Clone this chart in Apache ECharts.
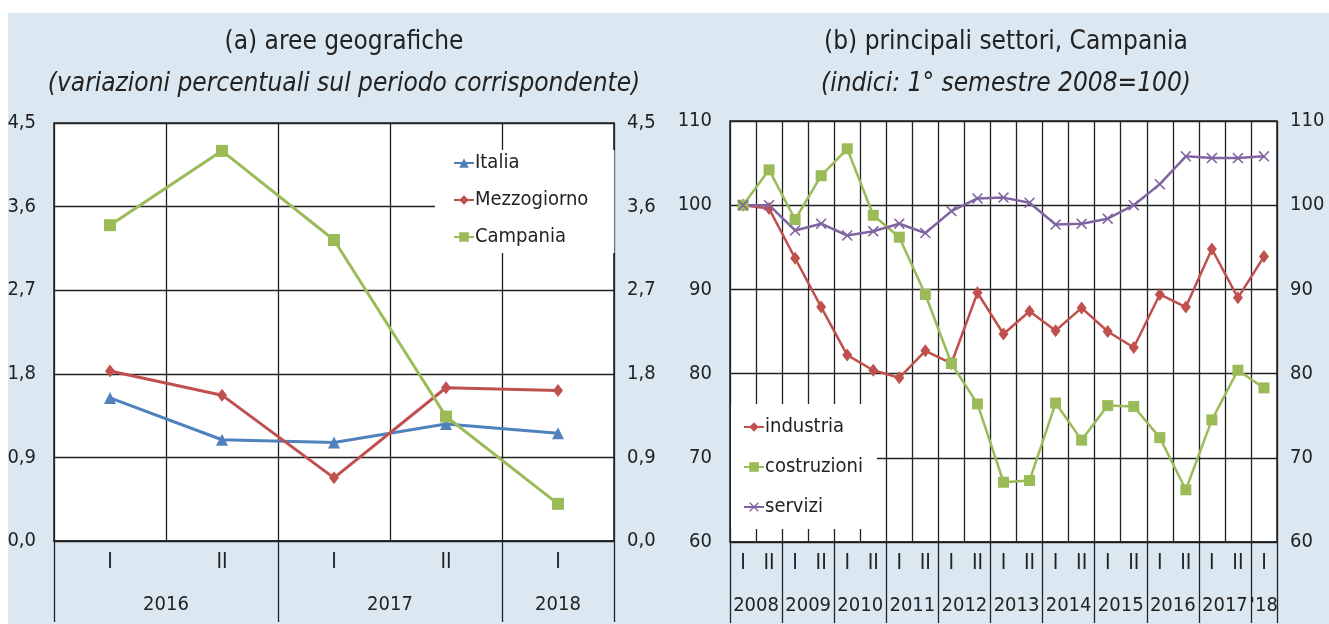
<!DOCTYPE html>
<html>
<head>
<meta charset="utf-8">
<script src="https://cdn.jsdelivr.net/npm/echarts@6/dist/echarts.min.js"></script>
<style>
  html, body { margin: 0; padding: 0; background: #fff; }
  #bg { position: absolute; left: 8px; top: 13px; width: 1321px; height: 611px; background: #dbe8f1; }
  #chart { position: absolute; left: 0; top: 0; width: 1329px; height: 624px; }
</style>
</head>
<body>
<div id="bg"></div>
<div id="chart"></div>
<script>
// (a) aree geografiche
const semLeft = ['I', 'II', 'I', 'II', 'I'];
const yearLeft = ['2016', '2016', '2017', '2017', '2018'];
const italia = [1.54, 1.09, 1.06, 1.26, 1.16];
const mezzogiorno = [1.83, 1.57, 0.68, 1.65, 1.62];
const campania = [3.40, 4.20, 3.24, 1.34, 0.40];

// (b) principali settori, Campania
const semRight = ['I', 'II', 'I', 'II', 'I', 'II', 'I', 'II', 'I', 'II', 'I', 'II',
  'I', 'II', 'I', 'II', 'I', 'II', 'I', 'II', 'I'];
const yearRight = ['2008', '2008', '2009', '2009', '2010', '2010', '2011', '2011',
  '2012', '2012', '2013', '2013', '2014', '2014', '2015', '2015', '2016', '2016',
  '2017', '2017', "'18"];
const industria = [100, 99.6, 93.7, 87.9, 82.2, 80.4, 79.5, 82.7, 81.2, 89.6, 84.7,
  87.4, 85.1, 87.8, 85.0, 83.1, 89.4, 87.9, 94.8, 89.0, 93.9];
const costruzioni = [100, 104.2, 98.3, 103.5, 106.7, 98.8, 96.2, 89.4, 81.2, 76.4,
  67.1, 67.3, 76.5, 72.1, 76.2, 76.1, 72.4, 66.2, 74.5, 80.4, 78.3];
const servizi = [100, 100, 97.0, 97.8, 96.4, 96.9, 97.8, 96.7, 99.3, 100.8, 100.9,
  100.3, 97.7, 97.8, 98.4, 100.0, 102.5, 105.8, 105.6, 105.6, 105.8];

const FONT = "'Liberation Sans Narrow', 'Arial Narrow', 'DejaVu Sans Condensed', sans-serif";
const INK = '#222';
const BLUE = '#4f81bd', RED = '#c0504d', GREEN = '#9bbb59', PURPLE = '#8064a2';
const CROSS = 'path://M0,1 L1,0 L5,4 L9,0 L10,1 L6,5 L10,9 L9,10 L5,6 L1,10 L0,9 L4,5 Z';

// group consecutive categories by year -> spans on a 0..n value axis
function yearGroups(years) {
  const g = [];
  years.forEach((y, i) => {
    const last = g[g.length - 1];
    if (last && last.label === y) last.n++;
    else g.push({ label: y, start: i, n: 1 });
  });
  return g;
}

function xAxes(gi, cats, years) {
  const g = yearGroups(years);
  const ticks = [0].concat(g.map(d => d.start + d.n));
  const centers = g.map(d => d.start + d.n / 2);
  return [
    {
      type: 'category', gridIndex: gi, data: cats, position: 'bottom',
      axisLine: { lineStyle: { color: INK, width: 1.5 } },
      axisTick: { interval: 0, length: 42, lineStyle: { color: INK, width: 1.3 } },
      axisLabel: { interval: 0, margin: 11, fontSize: 21, color: INK, fontFamily: FONT },
      splitLine: { show: true, interval: 0, lineStyle: { color: INK, width: 1.3 } }
    },
    {
      type: 'value', gridIndex: gi, position: 'bottom', min: 0, max: cats.length,
      axisLine: { show: false },
      axisTick: { show: true, customValues: ticks, length: 81, lineStyle: { color: INK, width: 1.3 } },
      axisLabel: {
        customValues: centers, margin: 54, fontSize: 20, color: INK, fontFamily: FONT,
        formatter: v => {
          const d = g.find(x => Math.abs(x.start + x.n / 2 - v) < 1e-6);
          return d ? d.label : '';
        }
      },
      splitLine: { show: false }
    }
  ];
}

function yAxes(gi, min, max, interval, fmt) {
  const label = { fontSize: 20, color: INK, fontFamily: FONT, formatter: fmt };
  return [
    {
      type: 'value', gridIndex: gi, position: 'left', min, max, interval,
      axisLine: { show: false }, axisTick: { show: false },
      axisLabel: Object.assign({ margin: 18 }, label),
      splitLine: { lineStyle: { color: INK, width: 1.3 } }
    },
    {
      type: 'value', gridIndex: gi, position: 'right', min, max, interval,
      axisLine: { show: false }, axisTick: { show: false },
      axisLabel: Object.assign({ margin: 13 }, label),
      splitLine: { show: false }
    }
  ];
}

function line(name, data, color, symbol, size, xi, yi, width) {
  return {
    name, type: 'line', data, xAxisIndex: xi, yAxisIndex: yi,
    symbol, symbolSize: size, showAllSymbol: true,
    lineStyle: { color, width }, itemStyle: { color },
    emphasis: { disabled: true }
  };
}

const commaFmt = v => v.toFixed(1).replace('.', ',');
const titleStyle = { fontSize: 26, fontWeight: 'normal', color: INK, fontFamily: FONT };
const subStyle = { fontSize: 26, fontStyle: 'italic', color: INK, fontFamily: FONT };

const chart = echarts.init(document.getElementById('chart'));
chart.setOption({
  animation: false,
  textStyle: { fontFamily: FONT },
  title: [
    {
      text: '(a) aree geografiche',
      subtext: '(variazioni percentuali sul periodo corrispondente)',
      left: 339, top: 24, textAlign: 'center', itemGap: 16,
      textStyle: titleStyle, subtextStyle: subStyle
    },
    {
      text: '(b) principali settori, Campania',
      subtext: '(indici: 1° semestre 2008=100)',
      left: 1001, top: 24, textAlign: 'center', itemGap: 16,
      textStyle: titleStyle, subtextStyle: subStyle
    }
  ],
  grid: [
    { left: 54, top: 123, width: 560, height: 418, show: true, backgroundColor: '#fff', borderColor: INK, borderWidth: 1.5 },
    { left: 730, top: 121, width: 547, height: 421, show: true, backgroundColor: '#fff', borderColor: INK, borderWidth: 1.5 }
  ],
  legend: [
    {
      data: ['Italia', 'Mezzogiorno', 'Campania'], orient: 'vertical',
      left: 435, top: 150, backgroundColor: '#fff', padding: [3, 26, 6, 18],
      itemGap: 17, itemWidth: 20, itemHeight: 12,
      textStyle: { fontSize: 20, color: INK, fontFamily: FONT, padding: [0, 0, 0, -4] }
    },
    {
      data: ['industria', 'costruzioni', 'servizi'], orient: 'vertical',
      left: 731, top: 404, backgroundColor: '#fff', padding: [13, 14, 12, 12],
      itemGap: 20, itemWidth: 20, itemHeight: 12,
      textStyle: { fontSize: 20, color: INK, fontFamily: FONT, padding: [0, 0, 0, -4] }
    }
  ],
  xAxis: xAxes(0, semLeft, yearLeft).concat(xAxes(1, semRight, yearRight)),
  yAxis: yAxes(0, 0, 4.5, 0.9, commaFmt).concat(yAxes(1, 60, 110, 10, v => String(v))),
  series: [
    line('Italia', italia, BLUE, 'triangle', 12, 0, 0, 3),
    line('Mezzogiorno', mezzogiorno, RED, 'diamond', [10, 13], 0, 0, 3),
    line('Campania', campania, GREEN, 'rect', 12, 0, 0, 3),
    line('industria', industria, RED, 'diamond', [10, 13], 2, 2, 2.5),
    line('costruzioni', costruzioni, GREEN, 'rect', 11, 2, 2, 2.5),
    line('servizi', servizi, PURPLE, CROSS, 11, 2, 2, 2.5)
  ]
});
</script>
</body>
</html>
